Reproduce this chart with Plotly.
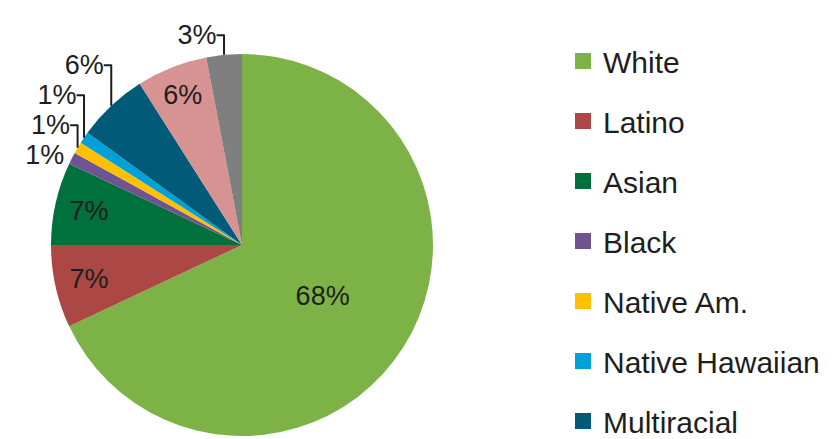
import plotly.graph_objects as go

labels = ["White", "Latino", "Asian", "Black", "Native Am.", "Native Hawaiian",
          "Multiracial", "Other", "Unknown"]
values = [68, 7, 7, 1, 1, 1, 6, 6, 3]
colors = ["#7DB346", "#AB4745", "#00703C", "#6E5490", "#FFC000", "#00A0D8",
          "#005A78", "#D69391", "#7F7F7F"]
text_pos = ["inside", "inside", "inside", "outside", "outside", "outside",
            "outside", "inside", "outside"]
legend_labels = labels[:7]

FONT = "Liberation Sans, Arial, sans-serif"

fig = go.Figure()
fig.add_trace(go.Pie(
    labels=labels, values=values, sort=False, direction="clockwise", rotation=0,
    marker=dict(colors=colors, line=dict(width=0)),
    textinfo="percent", texttemplate="%{percent:.0%}",
    textposition=text_pos, insidetextorientation="horizontal",
    textfont=dict(family=FONT, size=27, color="#1e1e1e"),
    domain=dict(x=[43/839, 425/839], y=[11/439, 393/439]),
    showlegend=False, hoverinfo="label+percent",
))

for lab, col in zip(legend_labels, colors):
    fig.add_trace(go.Scatter(
        x=[None], y=[None], mode="markers", name=lab, legendgroup=lab,
        marker=dict(symbol="square", size=18, color=col),
    ))

fig.update_layout(
    width=839, height=439,
    margin=dict(l=0, r=0, t=0, b=0),
    paper_bgcolor="white", plot_bgcolor="white",
    xaxis=dict(visible=False), yaxis=dict(visible=False),
    showlegend=True,
    legend=dict(
        x=555/839, xanchor="left", y=1 - 40/439, yanchor="top",
        font=dict(family=FONT, size=30, color="#1e1e1e"),
        tracegroupgap=18, itemsizing="trace", bgcolor="rgba(0,0,0,0)",
    ),
)

fig.write_html("out.html")
